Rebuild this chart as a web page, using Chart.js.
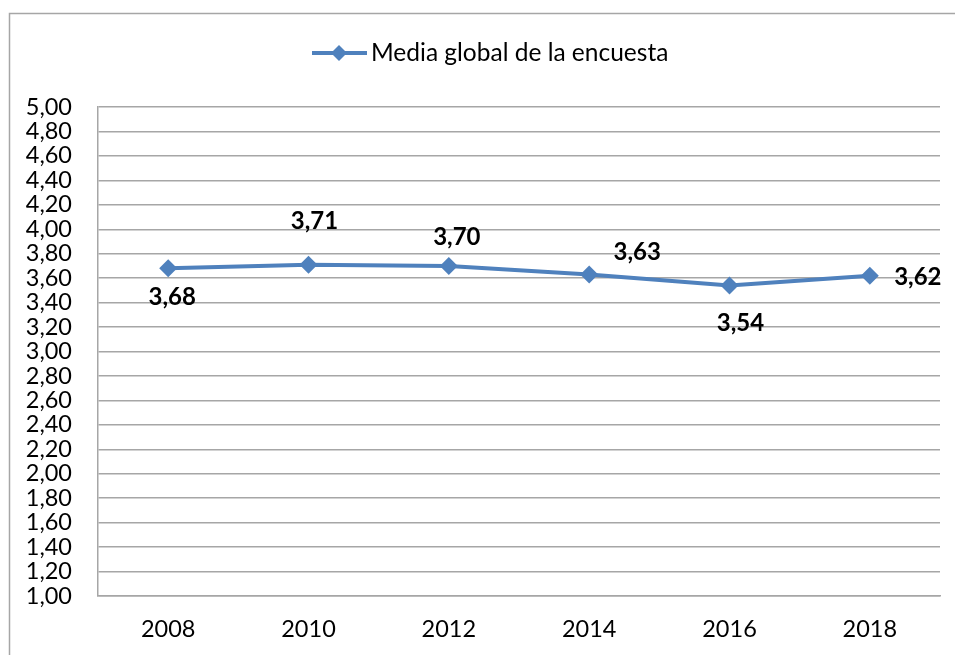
<!DOCTYPE html>
<html>
<head>
<meta charset="utf-8">
<script src="https://cdn.jsdelivr.net/npm/chart.js@4/dist/chart.umd.min.js"></script>
<style>
  html, body { margin: 0; padding: 0; background: #fff; }
  #wrap { width: 955px; height: 655px; position: relative; }
</style>
</head>
<body>
<div id="wrap"><canvas id="c" width="955" height="655"></canvas></div>
<script>
const categories = ['2008', '2010', '2012', '2014', '2016', '2018'];
const seriesName = 'Media global de la encuesta';
const seriesValues = [3.68, 3.71, 3.70, 3.63, 3.54, 3.62];
const yMin = 1.0, yMax = 5.0, yStep = 0.2;
// label placement (offsets in px from the point)
const labelOffsets = [[4, 29], [6, -43], [8, -29], [48, -22], [11, 38], [48, 2]];

const fmt = v => v.toFixed(2).replace('.', ',');
const FONT = 'Lato, "Open Sans", sans-serif';
const BLUE = '#4F81BD';

const decor = {
  id: 'decor',
  beforeDraw(chart) {
    const ctx = chart.ctx;
    ctx.save();
    ctx.strokeStyle = '#A6A6A6';
    ctx.lineWidth = 1.5;
    ctx.strokeRect(9.5, 13.5, 1000, 1000);
    ctx.restore();
  },
  afterDraw(chart) {
    const ctx = chart.ctx;
    // legend
    ctx.save();
    const ly = 53;
    ctx.strokeStyle = BLUE;
    ctx.lineWidth = 4;
    ctx.beginPath();
    ctx.moveTo(312, ly); ctx.lineTo(367, ly); ctx.stroke();
    ctx.fillStyle = BLUE;
    ctx.beginPath();
    ctx.moveTo(339, ly - 8); ctx.lineTo(347, ly); ctx.lineTo(339, ly + 8); ctx.lineTo(331, ly);
    ctx.closePath(); ctx.fill();
    ctx.fillStyle = '#000';
    ctx.font = '24.5px ' + FONT;
    ctx.textAlign = 'left';
    ctx.textBaseline = 'middle';
    ctx.fillText(seriesName, 371, ly);
    // data labels
    const meta = chart.getDatasetMeta(0);
    ctx.font = 'bold 24px ' + FONT;
    ctx.textAlign = 'center';
    meta.data.forEach((p, i) => {
      const o = labelOffsets[i];
      ctx.fillText(fmt(seriesValues[i]), p.x + o[0], p.y + o[1]);
    });
    ctx.restore();
  }
};

new Chart(document.getElementById('c'), {
  type: 'line',
  data: {
    labels: categories,
    datasets: [{
      label: seriesName,
      data: seriesValues,
      borderColor: BLUE,
      backgroundColor: BLUE,
      borderWidth: 4,
      pointStyle: 'rectRot',
      pointRadius: 9,
      pointHoverRadius: 9,
      pointBorderWidth: 0,
      tension: 0
    }]
  },
  options: {
    responsive: false,
    animation: false,
    devicePixelRatio: 1,
    layout: { padding: { left: 0, right: 15, top: 107, bottom: 0 } },
    plugins: { legend: { display: false }, tooltip: { enabled: false } },
    scales: {
      x: {
        offset: true,
        grid: { display: false, drawTicks: false },
        border: { display: true, color: '#A6A6A6', width: 1.5 },
        ticks: { color: '#000', font: { family: FONT, size: 23.5 }, padding: 19 },
        afterFit(s) { s.height = 59; }
      },
      y: {
        min: yMin, max: yMax,
        grid: { color: '#A6A6A6', lineWidth: 1.5, drawTicks: false },
        border: { display: true, color: '#A6A6A6', width: 1.5 },
        ticks: {
          stepSize: yStep, autoSkip: false, color: '#000',
          font: { family: FONT, size: 23.5 }, padding: 26,
          callback: v => fmt(v)
        },
        afterFit(s) { s.width = 98; }
      }
    }
  },
  plugins: [decor]
});
</script>
</body>
</html>
